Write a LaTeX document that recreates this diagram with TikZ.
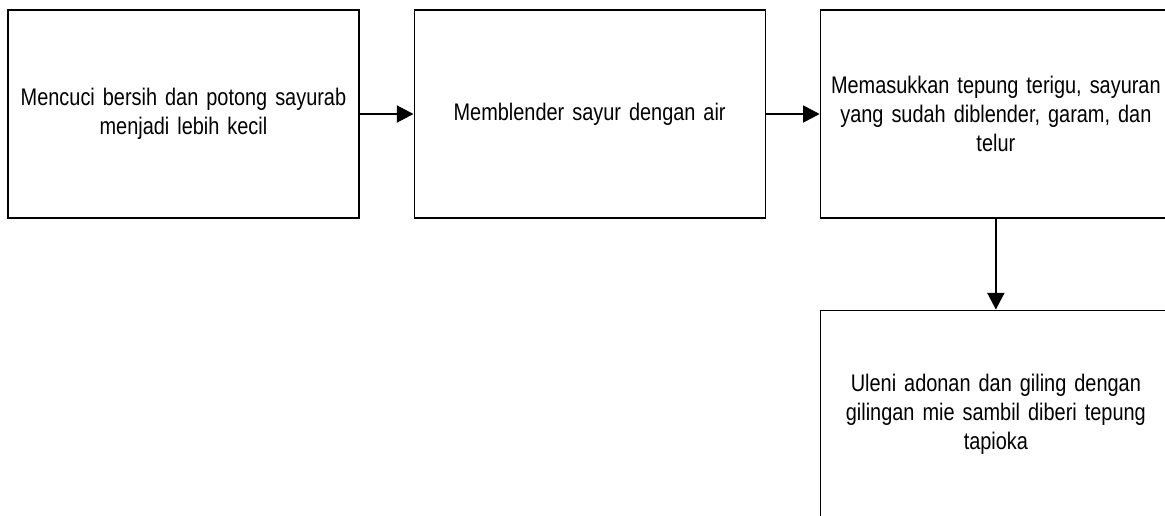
\documentclass[tikz,border=0pt]{standalone}
\usepackage{fontspec}
\setmainfont{Liberation Sans}
\newfontfamily\sempit[FakeStretch=0.83]{Liberation Sans}
\usetikzlibrary{arrows.meta, positioning}

\begin{document}
\begin{tikzpicture}[
  langkah/.style={rectangle, draw=black, line width=0.9pt, minimum width=263.25pt, minimum height=156pt, text width=258pt, align=center, inner sep=0pt, font=\sempit\fontsize{18pt}{22pt}\selectfont},
  arrow/.style={-{Triangle[length=12.5pt, width=12.5pt]}, line width=2pt}
]
  % Frame
  \path[use as bounding box, clip] (0,0) rectangle (873.75pt,-386.25pt);

  % Steps
  \node[langkah] (cuci) at (137.6pt,-85.5pt) {Mencuci bersih dan potong sayurab\\menjadi lebih kecil};
  \node[langkah, right=40.5pt of cuci] (blender) {Memblender sayur dengan air};
  \node[langkah, right=40.5pt of blender] (campur) {Memasukkan tepung terigu, sayuran\\yang sudah diblender, garam, dan\\telur};
  \node[langkah, below=68.25pt of campur] (uleni) {Uleni adonan dan giling dengan\\gilingan mie sambil diberi tepung\\tapioka};

  % Arrows
  \draw[arrow] (cuci) -- (blender);
  \draw[arrow] (blender) -- (campur);
  \draw[arrow] (campur) -- (uleni);
\end{tikzpicture}
\end{document}
